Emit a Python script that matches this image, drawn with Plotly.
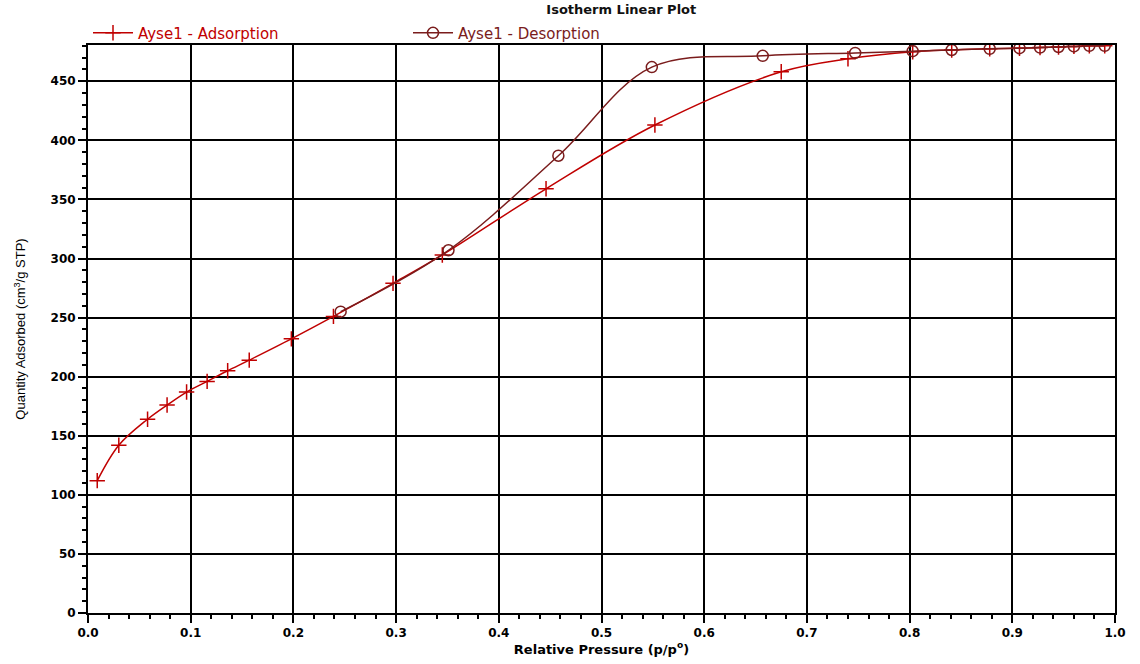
import plotly.graph_objects as go

ads_x = [0.009, 0.030, 0.058, 0.077, 0.096, 0.116, 0.136, 0.157, 0.198, 0.239, 0.297, 0.345,
         0.446, 0.552, 0.675, 0.740, 0.803, 0.841, 0.878, 0.907, 0.927, 0.945, 0.960, 0.975, 0.990]
ads_y = [112, 142, 164, 176, 187, 196, 205, 214, 232, 251, 279, 303,
         359, 413, 458, 469, 475, 476.5, 477.5, 478, 478.5, 479, 479.5, 480, 480]

des_x = [0.990, 0.975, 0.960, 0.945, 0.927, 0.907, 0.878, 0.841, 0.803, 0.747, 0.657, 0.549,
         0.458, 0.351, 0.246]
des_y = [480, 480, 479.5, 479, 478.5, 478, 477.5, 476.5, 475.5, 474, 471.5, 462,
         387, 307, 255]

x_ticks = [0.0, 0.1, 0.2, 0.3, 0.4, 0.5, 0.6, 0.7, 0.8, 0.9, 1.0]
y_ticks = [0, 50, 100, 150, 200, 250, 300, 350, 400, 450]

ADS = "#c00000"
DES = "#7a1c1c"
WIDE = "DejaVu Sans, Verdana, sans-serif"

fig = go.Figure()
fig.add_trace(go.Scatter(
    x=ads_x, y=ads_y, mode="lines+markers",
    name=f'<span style="color:{ADS}">Ayse1 - Adsorption</span>',
    line=dict(color=ADS, width=1.5, shape="spline"),
    marker=dict(symbol="cross-thin", size=11, color=ADS, line=dict(color=ADS, width=1.5)),
))
fig.add_trace(go.Scatter(
    x=des_x, y=des_y, mode="lines+markers",
    name=f'<span style="color:{DES}">Ayse1 - Desorption</span>',
    line=dict(color=DES, width=1.5, shape="spline"),
    marker=dict(symbol="circle-open", size=11, color=DES, line=dict(color=DES, width=1.5)),
))

fig.update_layout(
    width=1140, height=664,
    margin=dict(l=88, r=25, t=45, b=46),
    paper_bgcolor="white", plot_bgcolor="white",
    font=dict(family="Liberation Sans, Arial, sans-serif", color="black"),
    title=dict(text="<b>Isotherm Linear Plot</b>", x=0.545, xanchor="center",
               y=0.993, yanchor="top", font=dict(family=WIDE, size=13, color="#111")),
    legend=dict(orientation="h", x=0.0, xanchor="left", y=1.021, yanchor="middle",
                font=dict(family=WIDE, size=15), entrywidth=265, entrywidthmode="pixels",
                bgcolor="rgba(0,0,0,0)", itemwidth=40),
    showlegend=True,
)

fig.update_xaxes(
    range=[0, 1.0], tickvals=x_ticks, ticktext=[f"{v:.1f}" for v in x_ticks],
    showgrid=True, gridcolor="black", gridwidth=2,
    showline=True, linecolor="black", linewidth=2, mirror=True,
    ticks="outside", ticklen=8, tickwidth=2, tickcolor="black",
    minor=dict(dtick=0.02, tick0=0, ticks="outside", ticklen=4, tickwidth=1.5, tickcolor="black", showgrid=False),
    tickfont=dict(family=WIDE, size=12, weight="bold"),
    title=dict(text="Relative Pressure (p/p<sup>o</sup>)", font=dict(family=WIDE, size=13, weight="bold"), standoff=2),
    zeroline=False,
)
fig.update_yaxes(
    range=[0, 480.7], tickvals=y_ticks,
    showgrid=True, gridcolor="black", gridwidth=2,
    showline=True, linecolor="black", linewidth=2, mirror=True,
    ticks="outside", ticklen=8, tickwidth=2, tickcolor="black",
    minor=dict(dtick=10, tick0=0, ticks="outside", ticklen=4, tickwidth=1.5, tickcolor="black", showgrid=False),
    tickfont=dict(family=WIDE, size=12, weight="bold"),
    title=dict(text="Quantity Adsorbed (cm<sup>3</sup>/g STP)", font=dict(size=13), standoff=22),
    zeroline=False,
)

fig.write_html("out.html")
